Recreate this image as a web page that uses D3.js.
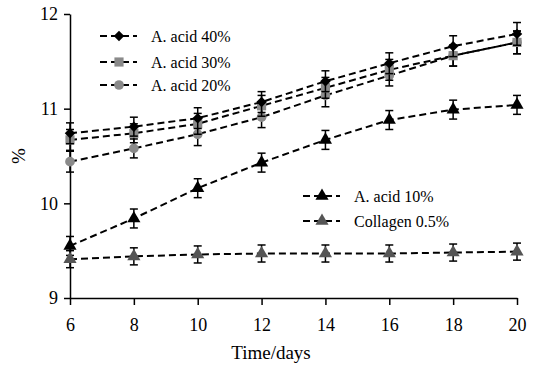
<!DOCTYPE html>
<html>
<head>
<meta charset="utf-8">
<script src="https://cdn.jsdelivr.net/npm/d3@7"></script>
<style>
  body { margin: 0; background: #fff; }
  svg { display: block; font-family: "Liberation Serif", "Times New Roman", serif; }
</style>
</head>
<body>
<svg id="chart" width="536" height="368"></svg>
<script>
const days = [6, 8, 10, 12, 14, 16, 18, 20];
const yTicks = [9, 10, 11, 12];

const acid40 = [10.74, 10.81, 10.90, 11.07, 11.29, 11.48, 11.66, 11.79];
const acid30 = [10.67, 10.74, 10.84, 11.03, 11.22, 11.41, 11.56, 11.70];
const acid20 = [10.44, 10.58, 10.73, 10.91, 11.14, 11.35, 11.56, 11.70];
const acid10 = [9.55, 9.84, 10.16, 10.43, 10.67, 10.88, 10.99, 11.04];
const collagen = [9.41, 9.44, 9.46, 9.47, 9.47, 9.47, 9.48, 9.49];

const err40 = [0.11, 0.10, 0.11, 0.11, 0.11, 0.11, 0.11, 0.12];
const err30 = [0.11, 0.10, 0.11, 0.11, 0.11, 0.11, 0.11, 0.12];
const err20 = [0.11, 0.10, 0.12, 0.11, 0.12, 0.11, 0.11, 0.12];
const err10 = [0.10, 0.10, 0.10, 0.10, 0.10, 0.10, 0.10, 0.10];
const errCol = [0.09, 0.09, 0.09, 0.09, 0.09, 0.09, 0.09, 0.09];

// rotated-square diamond, like the reference marker
const symbolRhomb = {
  draw(ctx, size) {
    const r = Math.sqrt(size / 2);
    ctx.moveTo(0, -r); ctx.lineTo(r, 0); ctx.lineTo(0, r); ctx.lineTo(-r, 0); ctx.closePath();
  }
};

const series = [
  {name: "A. acid 10%", values: acid10, err: err10, symbol: d3.symbolTriangle, size: 75, color: "#000"},
  {name: "Collagen 0.5%", values: collagen, err: errCol, symbol: d3.symbolTriangle, size: 75, color: "#555"},
  {name: "A. acid 20%", values: acid20, err: err20, symbol: d3.symbolCircle, size: 74, color: "#8a8a8a"},
  {name: "A. acid 30%", values: acid30, err: err30, symbol: d3.symbolSquare, size: 84, color: "#8a8a8a"},
  {name: "A. acid 40%", values: acid40, err: err40, symbol: symbolRhomb, size: 55, color: "#000"}
];

const svg = d3.select("#chart");
const x = d3.scaleLinear([6, 20], [70, 517]);
const y = d3.scaleLinear([9, 12], [298, 14]);

// axes
const xAxis = svg.append("g")
    .attr("transform", `translate(0,${y(9)})`)
    .call(d3.axisBottom(x).tickValues(days).tickSize(7).tickSizeOuter(0).tickPadding(13));
const yAxis = svg.append("g")
    .attr("transform", `translate(${x(6)},0)`)
    .call(d3.axisLeft(y).tickValues(yTicks).tickSize(6).tickSizeOuter(0).tickPadding(6).tickFormat(d3.format("d")));
[xAxis, yAxis].forEach(g => {
  g.select(".domain").attr("stroke", "#000").attr("stroke-width", 1.5);
  g.selectAll(".tick line").attr("stroke", "#000").attr("stroke-width", 1.5);
  g.selectAll(".tick text").attr("fill", "#000").attr("font-size", 18)
    .attr("font-family", "Liberation Serif, Times New Roman, serif");
});

svg.append("text")
    .attr("x", 271).attr("y", 359)
    .attr("text-anchor", "middle")
    .attr("font-size", 19)
    .text("Time/days");
svg.append("text")
    .attr("transform", "translate(25,156) rotate(-90)")
    .attr("text-anchor", "middle")
    .attr("font-size", 19)
    .text("%");

const line = d3.line().x(d => x(d.day)).y(d => y(d.v));

series.forEach(s => {
  const pts = days.map((day, i) => ({day, v: s.values[i], e: s.err[i]}));
  const g = svg.append("g");
  g.append("path")
      .datum(pts)
      .attr("d", line)
      .attr("fill", "none")
      .attr("stroke", "#000")
      .attr("stroke-width", 2)
      .attr("stroke-dasharray", "7,4");

  const eb = g.selectAll("g.eb").data(pts).join("g").attr("class", "eb")
      .attr("stroke", "#000").attr("stroke-width", 1.5);
  eb.append("line")
      .attr("x1", d => x(d.day)).attr("x2", d => x(d.day))
      .attr("y1", d => y(d.v + d.e)).attr("y2", d => y(d.v - d.e));
  eb.append("line")
      .attr("x1", d => x(d.day) - 4).attr("x2", d => x(d.day) + 4)
      .attr("y1", d => y(d.v + d.e)).attr("y2", d => y(d.v + d.e));
  eb.append("line")
      .attr("x1", d => x(d.day) - 4).attr("x2", d => x(d.day) + 4)
      .attr("y1", d => y(d.v - d.e)).attr("y2", d => y(d.v - d.e));

  g.selectAll("path.mk").data(pts).join("path").attr("class", "mk")
      .attr("transform", d => `translate(${x(d.day)},${y(d.v)})`)
      .attr("d", d3.symbol(s.symbol, s.size))
      .attr("fill", s.color);
});

// legends
const legendTop = [
  {name: "A. acid 40%", y: 36},
  {name: "A. acid 30%", y: 62},
  {name: "A. acid 20%", y: 85}
];
const legendBottom = [
  {name: "A. acid 10%", y: 196},
  {name: "Collagen 0.5%", y: 221}
];
function drawLegend(items, x0) {
  items.forEach(it => {
    const s = series.find(d => d.name === it.name);
    const g = svg.append("g").attr("transform", `translate(${x0},${it.y})`);
    g.append("line").attr("x1", 0).attr("x2", 37).attr("y1", 0).attr("y2", 0)
        .attr("stroke", "#000").attr("stroke-width", 2).attr("stroke-dasharray", "7,4");
    g.append("path").attr("transform", "translate(19,0)")
        .attr("d", d3.symbol(s.symbol, s.size)).attr("fill", s.color);
    g.append("text").attr("x", 51).attr("y", 5.5)
        .attr("font-size", 16).text(it.name);
  });
}
drawLegend(legendTop, 100);
drawLegend(legendBottom, 303);
</script>
</body>
</html>
